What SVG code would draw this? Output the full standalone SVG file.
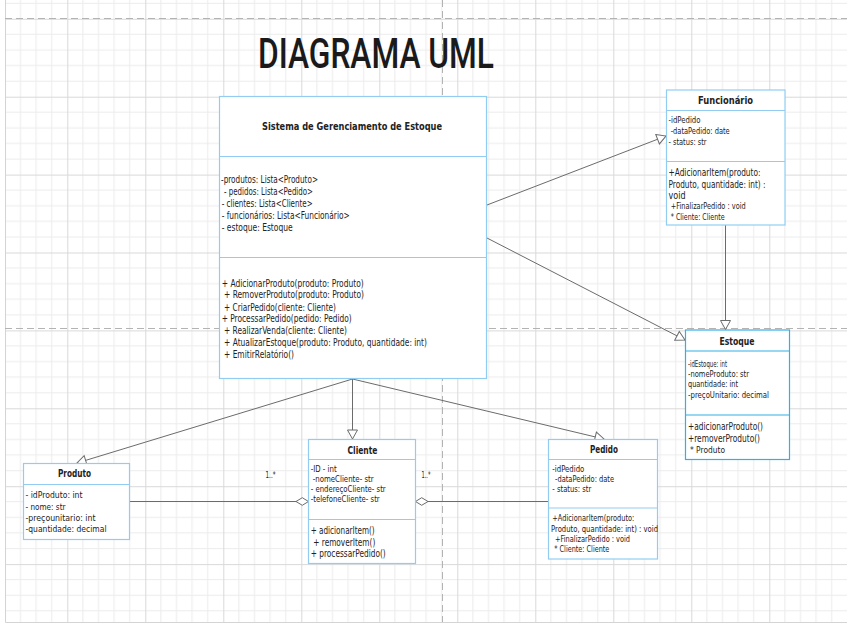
<svg xmlns="http://www.w3.org/2000/svg" width="848" height="626" viewBox="0 0 848 626">
<style>
.box{fill:#fff;stroke:#92cdf1;stroke-width:1.2}
.est{stroke:#2fb0ea}
.t{font-family:"DejaVu Sans Condensed","DejaVu Sans",sans-serif;font-size:10px;fill:#222}
.s{font-size:8.5px}
.h{font-weight:bold;text-anchor:middle;font-size:10.5px}
.conn{stroke:#6b6b6b;stroke-width:1;fill:none}
.dash{stroke:#b3b3b3;stroke-width:1;stroke-dasharray:7,4;fill:none}
</style>
<defs>
<pattern id="grid" patternUnits="userSpaceOnUse" x="67.3" y="96.7" width="78" height="77.9">
<rect width="78" height="77.9" fill="#fff"/>
<path d="M15.6 0V77.9M31.2 0V77.9M46.8 0V77.9M62.4 0V77.9M0 15.58H78M0 31.16H78M0 46.74H78M0 62.32H78" stroke="#ececec" stroke-width="1"/>
<path d="M0.5 0V77.9M0 0.5H78" stroke="#d9d9d9" stroke-width="1"/>
</pattern>
<marker id="tri" markerUnits="userSpaceOnUse" markerWidth="12" markerHeight="12" refX="10" refY="6" orient="auto" overflow="visible">
<path d="M1 1 L10 6 L1 11 Z" fill="#fff" stroke="#6b6b6b" stroke-width="1"/>
</marker>
<marker id="dia" markerUnits="userSpaceOnUse" markerWidth="14" markerHeight="10" refX="13" refY="5" orient="auto" overflow="visible">
<path d="M0.5 5 L6.8 1.2 L13 5 L6.8 8.8 Z" fill="#fff" stroke="#6b6b6b" stroke-width="1"/>
</marker>
</defs>

<g id="background">
<rect x="5" y="0" width="842" height="622" fill="url(#grid)"/>
<path d="M5.5 0V622.5H847" stroke="#d4d4d4" stroke-width="1" fill="none"/>
<path class="dash" d="M5 18.5H847M5 328.5H847M442.5 0V622"/>
</g>

<text id="title" x="376" y="68" text-anchor="middle" font-family="Roboto,'DejaVu Sans Condensed',sans-serif" font-weight="500" font-size="43" fill="#1a1a1a" textLength="236" lengthAdjust="spacingAndGlyphs">DIAGRAMA UML</text>

<g id="connectors">
<line class="conn" x1="487" y1="205" x2="666" y2="136" marker-end="url(#tri)"/>
<line class="conn" x1="487" y1="238" x2="685" y2="340" marker-end="url(#tri)"/>
<line class="conn" x1="725.5" y1="225" x2="725.5" y2="329.5" marker-end="url(#tri)"/>
<line class="conn" x1="352.5" y1="379" x2="77" y2="463" marker-end="url(#tri)"/>
<line class="conn" x1="352.5" y1="379" x2="352.5" y2="439" marker-end="url(#tri)"/>
<line class="conn" x1="352.5" y1="379" x2="604" y2="439" marker-end="url(#tri)"/>
<line class="conn" x1="130" y1="501.5" x2="308.5" y2="501.5" marker-end="url(#dia)"/>
<line class="conn" x1="548.5" y1="501.5" x2="415.5" y2="501.5" marker-end="url(#dia)"/>
<text class="t s" x="265.5" y="478" textLength="10" lengthAdjust="spacingAndGlyphs">1..*</text>
<text class="t s" x="421.5" y="478" textLength="9" lengthAdjust="spacingAndGlyphs">1..*</text>
</g>

<g id="sistema">
<rect class="box" x="219.5" y="96.5" width="267" height="282"/>
<line class="box" x1="219.5" y1="156.5" x2="486.5" y2="156.5"/>
<line class="box" x1="219.5" y1="257.5" x2="486.5" y2="257.5"/>
<text class="t h" x="352" y="130" textLength="180" lengthAdjust="spacingAndGlyphs">Sistema de Gerenciamento de Estoque</text>
<text class="t" x="221" y="183" textLength="97" lengthAdjust="spacingAndGlyphs">-produtos: Lista&lt;Produto&gt;</text>
<text class="t" x="224" y="195" textLength="89" lengthAdjust="spacingAndGlyphs">- pedidos: Lista&lt;Pedido&gt;</text>
<text class="t" x="221.7" y="207" textLength="91" lengthAdjust="spacingAndGlyphs">- clientes: Lista&lt;Cliente&gt;</text>
<text class="t" x="221.7" y="219" textLength="128" lengthAdjust="spacingAndGlyphs">- funcionários: Lista&lt;Funcionário&gt;</text>
<text class="t" x="221.7" y="231" textLength="71" lengthAdjust="spacingAndGlyphs">- estoque: Estoque</text>
<text class="t" x="221.7" y="286.5" textLength="142" lengthAdjust="spacingAndGlyphs">+ AdicionarProduto(produto: Produto)</text>
<text class="t" x="224" y="298.3" textLength="140" lengthAdjust="spacingAndGlyphs">+ RemoverProduto(produto: Produto)</text>
<text class="t" x="224" y="310.5" textLength="112" lengthAdjust="spacingAndGlyphs">+ CriarPedido(cliente: Cliente)</text>
<text class="t" x="221.7" y="322.3" textLength="130" lengthAdjust="spacingAndGlyphs">+ ProcessarPedido(pedido: Pedido)</text>
<text class="t" x="224" y="334" textLength="123" lengthAdjust="spacingAndGlyphs">+ RealizarVenda(cliente: Cliente)</text>
<text class="t" x="224" y="346" textLength="203" lengthAdjust="spacingAndGlyphs">+ AtualizarEstoque(produto: Produto, quantidade: int)</text>
<text class="t" x="224" y="358" textLength="70" lengthAdjust="spacingAndGlyphs">+ EmitirRelatório()</text>
</g>

<g id="funcionario">
<rect class="box" x="666.5" y="90" width="118.5" height="135"/>
<line class="box" x1="666.5" y1="110.5" x2="785" y2="110.5"/>
<line class="box" x1="666.5" y1="161.5" x2="785" y2="161.5"/>
<text class="t h" x="725.5" y="104" textLength="55" lengthAdjust="spacingAndGlyphs">Funcionário</text>
<text class="t s" x="668.5" y="123" textLength="32" lengthAdjust="spacingAndGlyphs">-idPedido</text>
<text class="t s" x="670.7" y="134" textLength="59" lengthAdjust="spacingAndGlyphs">-dataPedido: date</text>
<text class="t s" x="668.5" y="145" textLength="38" lengthAdjust="spacingAndGlyphs">- status: str</text>
<text class="t" x="668.5" y="176" textLength="92" lengthAdjust="spacingAndGlyphs">+AdicionarItem(produto:</text>
<text class="t" x="668.5" y="187.5" textLength="97" lengthAdjust="spacingAndGlyphs">Produto, quantidade: int) :</text>
<text class="t" x="668.5" y="198.5" textLength="17" lengthAdjust="spacingAndGlyphs">void</text>
<text class="t s" x="670.7" y="208.5" textLength="75" lengthAdjust="spacingAndGlyphs">+FinalizarPedido : void</text>
<text class="t s" x="670.7" y="219.5" textLength="54" lengthAdjust="spacingAndGlyphs">* Cliente: Cliente</text>
</g>

<g id="estoque">
<rect class="box est" x="685.5" y="330" width="104" height="129.5"/>
<line class="box est" x1="685.5" y1="351" x2="789.5" y2="351"/>
<line class="box est" x1="685.5" y1="415" x2="789.5" y2="415"/>
<text class="t h" x="737" y="344.5" textLength="35" lengthAdjust="spacingAndGlyphs">Estoque</text>
<text class="t s" x="688" y="367" textLength="39" lengthAdjust="spacingAndGlyphs">-idEstoque: int</text>
<text class="t s" x="688" y="377" textLength="61" lengthAdjust="spacingAndGlyphs">-nomeProduto: str</text>
<text class="t s" x="688" y="387" textLength="50" lengthAdjust="spacingAndGlyphs">quantidade: int</text>
<text class="t s" x="688" y="398" textLength="81" lengthAdjust="spacingAndGlyphs">-preçoUnitario: decimal</text>
<text class="t" x="688" y="429.5" textLength="75" lengthAdjust="spacingAndGlyphs">+adicionarProduto()</text>
<text class="t" x="688" y="441.5" textLength="72" lengthAdjust="spacingAndGlyphs">+removerProduto()</text>
<text class="t s" x="690" y="453" textLength="35" lengthAdjust="spacingAndGlyphs">* Produto</text>
</g>

<g id="produto">
<rect class="box" x="23.5" y="463.5" width="106" height="76"/>
<line class="box" x1="23.5" y1="484.5" x2="129.5" y2="484.5"/>
<text class="t h" x="74.5" y="477" textLength="33" lengthAdjust="spacingAndGlyphs">Produto</text>
<text class="t s" x="25.5" y="498" textLength="57" lengthAdjust="spacingAndGlyphs">- idProduto: int</text>
<text class="t s" x="25.5" y="509.5" textLength="40" lengthAdjust="spacingAndGlyphs">- nome: str</text>
<text class="t s" x="25.5" y="520.5" textLength="70" lengthAdjust="spacingAndGlyphs">-preçounitario: int</text>
<text class="t s" x="25.5" y="531.5" textLength="81" lengthAdjust="spacingAndGlyphs">-quantidade: decimal</text>
</g>

<g id="cliente">
<rect class="box" x="308.5" y="439.5" width="107" height="124"/>
<line class="box" x1="308.5" y1="459.5" x2="415.5" y2="459.5"/>
<line class="box" x1="308.5" y1="519.5" x2="415.5" y2="519.5"/>
<text class="t h" x="362.5" y="453.5" textLength="30" lengthAdjust="spacingAndGlyphs">Cliente</text>
<text class="t s" x="310.7" y="471.5" textLength="26" lengthAdjust="spacingAndGlyphs">-ID - int</text>
<text class="t s" x="312.7" y="481.5" textLength="61" lengthAdjust="spacingAndGlyphs">-nomeCliente- str</text>
<text class="t s" x="310.7" y="491.5" textLength="75" lengthAdjust="spacingAndGlyphs">- endereçoCliente- str</text>
<text class="t s" x="310.7" y="502" textLength="69" lengthAdjust="spacingAndGlyphs">-telefoneCliente- str</text>
<text class="t" x="310.7" y="533.5" textLength="64" lengthAdjust="spacingAndGlyphs">+ adicionarItem()</text>
<text class="t" x="313.3" y="545.5" textLength="62" lengthAdjust="spacingAndGlyphs">+ removerItem()</text>
<text class="t" x="310.7" y="557" textLength="75" lengthAdjust="spacingAndGlyphs">+ processarPedido()</text>
</g>

<g id="pedido">
<rect class="box" x="548.5" y="439.5" width="109" height="119.5"/>
<line class="box" x1="548.5" y1="459.5" x2="657.5" y2="459.5"/>
<line class="box" x1="548.5" y1="508" x2="657.5" y2="508"/>
<text class="t h" x="604" y="453" textLength="28" lengthAdjust="spacingAndGlyphs">Pedido</text>
<text class="t s" x="552.3" y="471.5" textLength="32" lengthAdjust="spacingAndGlyphs">-idPedido</text>
<text class="t s" x="555" y="481.5" textLength="59" lengthAdjust="spacingAndGlyphs">-dataPedido: date</text>
<text class="t s" x="552.3" y="492" textLength="39" lengthAdjust="spacingAndGlyphs">- status: str</text>
<text class="t s" x="552.3" y="520.5" textLength="82" lengthAdjust="spacingAndGlyphs">+AdicionarItem(produto:</text>
<text class="t s" x="551" y="531.5" textLength="107" lengthAdjust="spacingAndGlyphs">Produto, quantidade: int) : void</text>
<text class="t s" x="555" y="542" textLength="75" lengthAdjust="spacingAndGlyphs">+FinalizarPedido : void</text>
<text class="t s" x="554.3" y="552" textLength="55" lengthAdjust="spacingAndGlyphs">* Cliente: Cliente</text>
</g>
</svg>
